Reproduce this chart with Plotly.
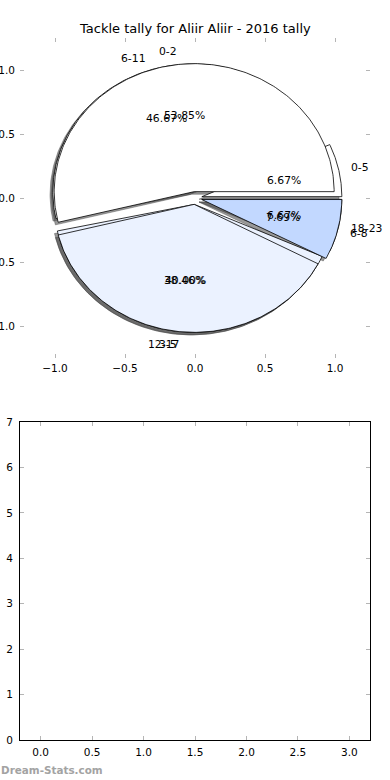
import numpy as np
import plotly.graph_objects as go

# ---- data ----
title_text = "Tackle tally for Aliir Aliir - 2016 tally"
pieA_labels = ["0-5", "6-11", "12-17", "18-23"]
pieA_values = [1, 7, 6, 1]
pieA_colors = ["#ffffff", "#ffffff", "#ebf2ff", "#c2d8ff"]
pieB_labels = ["0-2", "3-5", "6-8"]
pieB_values = [7, 5, 1]
pieB_colors = ["#ffffff", "#ebf2ff", "#c2d8ff"]
explode = 0.05
pie_ticks = [-1.0, -0.5, 0.0, 0.5, 1.0]
bottom_xticks = [0.0, 0.5, 1.0, 1.5, 2.0, 2.5, 3.0]
bottom_yticks = [0, 1, 2, 3, 4, 5, 6, 7]
watermark = "Dream-Stats.com"

W, H = 390, 780
FONT = "DejaVu Sans"


def wedges(values):
    total = float(sum(values))
    out = []
    start = 0.0
    for v in values:
        frac = v / total
        t1 = start * 360.0
        t2 = (start + frac) * 360.0
        tm = np.deg2rad((t1 + t2) / 2.0)
        cx, cy = explode * np.cos(tm), explode * np.sin(tm)
        th = np.deg2rad(np.linspace(t1, t2, 200))
        xs = np.concatenate([[cx], cx + np.cos(th), [cx]])
        ys = np.concatenate([[cy], cy + np.sin(th), [cy]])
        out.append(dict(xs=xs, ys=ys, cx=cx, cy=cy, tm=tm, frac=frac))
        start += frac
    return out


wA = wedges(pieA_values)
wB = wedges(pieB_values)

fig = go.Figure()

# shadows (drawn beneath all wedges)
for ws in (wA, wB):
    for w in ws:
        fig.add_trace(go.Scatter(
            x=w["xs"] - 0.02, y=w["ys"] - 0.02, mode="lines", fill="toself",
            fillcolor="rgba(70,70,70,0.55)", line=dict(color="rgba(70,70,70,0.55)", width=0.8),
            hoverinfo="skip", showlegend=False, xaxis="x", yaxis="y"))

# wedges
for ws, cols, labs in ((wA, pieA_colors, pieA_labels), (wB, pieB_colors, pieB_labels)):
    for w, c, lab in zip(ws, cols, labs):
        fig.add_trace(go.Scatter(
            x=w["xs"], y=w["ys"], mode="lines", fill="toself",
            fillcolor=c, line=dict(color="black", width=0.8),
            name=lab, hoverinfo="name", showlegend=False, xaxis="x", yaxis="y"))

annotations = []
for ws, labs in ((wA, pieA_labels), (wB, pieB_labels)):
    for w, lab in zip(ws, labs):
        xt = w["cx"] + 1.1 * np.cos(w["tm"])
        yt = w["cy"] + 1.1 * np.sin(w["tm"])
        annotations.append(dict(
            x=xt, y=yt, xref="x", yref="y", text=lab, showarrow=False,
            xanchor="left" if xt > 0 else "right", yanchor="middle",
            xshift=-3 if xt > 0 else 3,
            font=dict(family=FONT, size=10.8, color="black")))
        xp = w["cx"] + 0.6 * np.cos(w["tm"])
        yp = w["cy"] + 0.6 * np.sin(w["tm"])
        annotations.append(dict(
            x=xp, y=yp, xref="x", yref="y", text="%.2f%%" % (w["frac"] * 100),
            showarrow=False, xanchor="center", yanchor="middle",
            font=dict(family=FONT, size=10.8, color="black")))

annotations.append(dict(
    x=0.5 * (20 + 370) / W, y=1 - 29 / H, xref="paper", yref="paper",
    text=title_text, showarrow=False, xanchor="center", yanchor="middle",
    font=dict(family=FONT, size=13, color="black")))
annotations.append(dict(
    x=-0.002, y=1 - 770 / H, xref="paper", yref="paper", text="<b>" + watermark + "</b>",
    showarrow=False, xanchor="left", yanchor="middle",
    font=dict(family=FONT, size=10.4, color="#a3a3a3")))

# empty bottom plot
fig.add_trace(go.Scatter(x=[], y=[], xaxis="x2", yaxis="y2", showlegend=False))

tickfont = dict(family=FONT, size=10.5, color="black")
common = dict(ticks="inside", ticklen=4, tickwidth=1, tickcolor="#b5b5b5",
              showgrid=False, zeroline=False, automargin=False, tickfont=tickfont)

fig.update_layout(
    width=W, height=H, autosize=False,
    margin=dict(l=0, r=0, t=0, b=0),
    paper_bgcolor="white", plot_bgcolor="rgba(0,0,0,0)",
    showlegend=False,
    annotations=annotations,
    xaxis=dict(domain=[20 / W, 370 / W], range=[-1.25, 1.25], anchor="y",
               tickvals=pie_ticks, tickformat=".1f", showline=False, mirror="ticks",
               ticklabelstandoff=2, **common),
    yaxis=dict(domain=[1 - 358 / H, 1 - 38 / H], range=[-1.25, 1.25], anchor="x",
               tickvals=pie_ticks, tickformat=".1f", showline=False, mirror="ticks",
               ticklabelstandoff=4, **common),
    xaxis2=dict(domain=[20 / W, 370 / W], range=[-0.2, 3.2], anchor="y2",
                tickvals=bottom_xticks, tickformat=".1f", showline=True, linecolor="black",
                linewidth=1, mirror="ticks", ticklabelstandoff=2, **common),
    yaxis2=dict(domain=[1 - 740 / H, 1 - 422 / H], range=[0, 7], anchor="x2",
                tickvals=bottom_yticks, showline=True, linecolor="black",
                linewidth=1, mirror="ticks", ticklabelstandoff=4, **common),
)

fig.write_html(
    "out.html",
    config={"displayModeBar": False},
    post_script="document.body.style.margin='0';document.body.style.overflow='hidden';",
)
